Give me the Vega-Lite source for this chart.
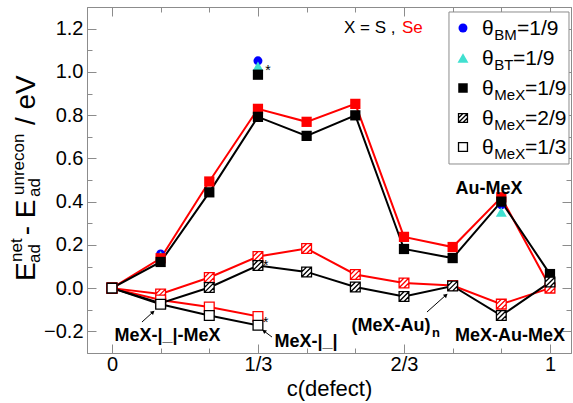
{
  "$schema": "https://vega.github.io/schema/vega-lite/v6.json",
  "width": 484,
  "height": 346,
  "autosize": {"type": "none"},
  "padding": {"left": 87, "top": 7, "right": 2, "bottom": 50},
  "background": "white",
  "config": {
    "view": {"stroke": "#8c8c8c", "strokeWidth": 1},
    "font": "Liberation Sans",
    "axis": {
      "domainColor": "#8c8c8c", "tickColor": "#8c8c8c", "domainWidth": 1, "tickWidth": 1,
      "labelFont": "Liberation Sans", "labelFontSize": 20, "labelColor": "#000000",
      "titleFont": "Liberation Sans", "titleFontWeight": "normal", "titleColor": "#000000",
      "grid": false, "labelFlush": false, "labelOverlap": false
    }
  },
  "datasets": {
    "pts": [
      {"c": 0, "v": 0, "set": "Se", "kind": "filled"},
      {"c": 0.1111, "v": 0.138, "set": "Se", "kind": "filled"},
      {"c": 0.2222, "v": 0.493, "set": "Se", "kind": "filled"},
      {"c": 0.3333, "v": 0.829, "set": "Se", "kind": "filled"},
      {"c": 0.4444, "v": 0.769, "set": "Se", "kind": "filled"},
      {"c": 0.5556, "v": 0.852, "set": "Se", "kind": "filled"},
      {"c": 0.6667, "v": 0.237, "set": "Se", "kind": "filled"},
      {"c": 0.7778, "v": 0.19, "set": "Se", "kind": "filled"},
      {"c": 0.8889, "v": 0.42, "set": "Se", "kind": "filled"},
      {"c": 1, "v": 0.005, "set": "Se", "kind": "filled"},
      {"c": 0, "v": 0, "set": "Se", "kind": "hatched"},
      {"c": 0.1111, "v": -0.027, "set": "Se", "kind": "hatched"},
      {"c": 0.2222, "v": 0.049, "set": "Se", "kind": "hatched"},
      {"c": 0.3333, "v": 0.146, "set": "Se", "kind": "hatched"},
      {"c": 0.4444, "v": 0.183, "set": "Se", "kind": "hatched"},
      {"c": 0.5556, "v": 0.063, "set": "Se", "kind": "hatched"},
      {"c": 0.6667, "v": 0.024, "set": "Se", "kind": "hatched"},
      {"c": 0.7778, "v": 0.012, "set": "Se", "kind": "hatched"},
      {"c": 0.8889, "v": -0.074, "set": "Se", "kind": "hatched"},
      {"c": 1, "v": 0.0, "set": "Se", "kind": "hatched"},
      {"c": 0, "v": 0, "set": "Se", "kind": "open"},
      {"c": 0.1111, "v": -0.055, "set": "Se", "kind": "open"},
      {"c": 0.2222, "v": -0.087, "set": "Se", "kind": "open"},
      {"c": 0.3333, "v": -0.131, "set": "Se", "kind": "open"},
      {"c": 0, "v": 0, "set": "S", "kind": "filled"},
      {"c": 0.1111, "v": 0.121, "set": "S", "kind": "filled"},
      {"c": 0.2222, "v": 0.443, "set": "S", "kind": "filled"},
      {"c": 0.3333, "v": 0.792, "set": "S", "kind": "filled"},
      {"c": 0.4444, "v": 0.704, "set": "S", "kind": "filled"},
      {"c": 0.5556, "v": 0.799, "set": "S", "kind": "filled"},
      {"c": 0.6667, "v": 0.181, "set": "S", "kind": "filled"},
      {"c": 0.7778, "v": 0.139, "set": "S", "kind": "filled"},
      {"c": 0.8889, "v": 0.4, "set": "S", "kind": "filled"},
      {"c": 1, "v": 0.065, "set": "S", "kind": "filled"},
      {"c": 0, "v": 0, "set": "S", "kind": "hatched"},
      {"c": 0.1111, "v": -0.07, "set": "S", "kind": "hatched"},
      {"c": 0.2222, "v": 0.003, "set": "S", "kind": "hatched"},
      {"c": 0.3333, "v": 0.105, "set": "S", "kind": "hatched"},
      {"c": 0.4444, "v": 0.075, "set": "S", "kind": "hatched"},
      {"c": 0.5556, "v": 0.005, "set": "S", "kind": "hatched"},
      {"c": 0.6667, "v": -0.039, "set": "S", "kind": "hatched"},
      {"c": 0.7778, "v": 0.01, "set": "S", "kind": "hatched"},
      {"c": 0.8889, "v": -0.127, "set": "S", "kind": "hatched"},
      {"c": 1, "v": 0.028, "set": "S", "kind": "hatched"},
      {"c": 0, "v": 0, "set": "S", "kind": "open"},
      {"c": 0.1111, "v": -0.075, "set": "S", "kind": "open"},
      {"c": 0.2222, "v": -0.127, "set": "S", "kind": "open"},
      {"c": 0.3333, "v": -0.172, "set": "S", "kind": "open"},
      {"c": 0.3333, "v": 0.987, "set": "S", "kind": "star"},
      {"c": 0, "v": 0, "set": "BM", "kind": "circle"},
      {"c": 0.1111, "v": 0.158, "set": "BM", "kind": "circle"},
      {"c": 0.3333, "v": 1.051, "set": "BM", "kind": "circle"},
      {"c": 0.8889, "v": 0.385, "set": "BM", "kind": "circle"},
      {"c": 0, "v": 0, "set": "BT", "kind": "triangle"},
      {"c": 0.1111, "v": 0.15, "set": "BT", "kind": "triangle"},
      {"c": 0.3333, "v": 1.026, "set": "BT", "kind": "triangle"},
      {"c": 0.8889, "v": 0.352, "set": "BT", "kind": "triangle"}
    ],
    "legbox": [{"c": 0.7694, "c2": 1.0434, "v": 1.2769, "v2": 0.574}],
    "leg": [
      {"c": 0.8014, "v": 1.2029, "kind": "circle"},
      {"c": 0.8014, "v": 1.0642, "kind": "triangle"},
      {"c": 0.8014, "v": 0.9254, "kind": "filled"},
      {"c": 0.8014, "v": 0.7867, "kind": "hatched"},
      {"c": 0.8014, "v": 0.6526, "kind": "open"}
    ],
    "legMain": [
      {"c": 0.8448, "v": 1.1705, "t": "θ"},
      {"c": 0.8448, "v": 1.0318, "t": "θ"},
      {"c": 0.8448, "v": 0.893, "t": "θ"},
      {"c": 0.8448, "v": 0.7543, "t": "θ"},
      {"c": 0.8448, "v": 0.6202, "t": "θ"},
      {"c": 0.9248, "v": 1.1705, "t": "=1/9"},
      {"c": 0.9157, "v": 1.0318, "t": "=1/9"},
      {"c": 0.9431, "v": 0.893, "t": "=1/9"},
      {"c": 0.9431, "v": 0.7543, "t": "=2/9"},
      {"c": 0.9431, "v": 0.6202, "t": "=1/3"}
    ],
    "legSub": [
      {"c": 0.8729, "v": 1.1473, "t": "BM"},
      {"c": 0.8729, "v": 1.0086, "t": "BT"},
      {"c": 0.8729, "v": 0.8698, "t": "MeX"},
      {"c": 0.8729, "v": 0.7311, "t": "MeX"},
      {"c": 0.8729, "v": 0.597, "t": "MeX"}
    ],
    "xs": [
      {"c": 0.5297, "v": 1.1797, "t": "X = S ,", "set": "S"},
      {"c": 0.6621, "v": 1.1797, "t": "Se", "set": "Se"}
    ],
    "ann": [
      {"c": 0.1267, "v": -0.245, "t": "MeX-|_|-MeX"},
      {"c": 0.4429, "v": -0.271, "t": "MeX-|_|"},
      {"c": 0.637, "v": -0.197, "t": "(MeX-Au)"},
      {"c": 0.9087, "v": -0.2432, "t": "MeX-Au-MeX"},
      {"c": 0.8607, "v": 0.4338, "t": "Au-MeX"}
    ],
    "annSub": [{"c": 0.7306, "v": -0.2247, "t": "n"}],
    "arrows": [
      {"c": 0.0685, "v": -0.1568, "c2": 0.0936, "v2": -0.1105, "ang": 48},
      {"c": 0.3653, "v": -0.2261, "c2": 0.347, "v2": -0.1984, "ang": 307},
      {"c": 0.7192, "v": -0.1105, "c2": 0.7626, "v2": -0.0319, "ang": 48}
    ],
    "stars": [
      {"c": 0.35, "v": 0.9855, "t": "*"},
      {"c": 0.345, "v": 0.0823, "t": "*"},
      {"c": 0.345, "v": -0.1813, "t": "*"}
    ],
    "ytMain": [
      {"c": -0.1758, "v": 0.0328, "t": "E"},
      {"c": -0.1758, "v": 0.2446, "t": "- E"},
      {"c": -0.1758, "v": 0.7542, "t": "/ eV"}
    ],
    "ytSmall": [
      {"c": -0.2055, "v": 0.1207, "t": "net"},
      {"c": -0.1644, "v": 0.1161, "t": "ad"},
      {"c": -0.2009, "v": 0.4305, "t": "unrecon"},
      {"c": -0.1644, "v": 0.4213, "t": "ad"}
    ]
  },
  "resolve": {"axis": {"x": "independent", "y": "independent"}},
  "layer": [
    {
      "mark": {"type": "rule", "color": "#000000", "strokeWidth": 1},
      "encoding": {"y": {"datum": 0, "type": "quantitative", "scale": {"domain": [-0.3, 1.3], "nice": false, "zero": false}, "axis": null}}
    },
    {
      "data": {"name": "pts"},
      "transform": [{"filter": "datum.kind=='filled'||datum.kind=='hatched'||datum.kind=='open'"}],
      "mark": {"type": "line", "strokeWidth": 2},
      "encoding": {
        "x": {"field": "c", "type": "quantitative", "scale": {"domain": [-0.057, 1.048], "nice": false, "zero": false},
          "axis": {"orient": "bottom", "values": [0, 0.1111, 0.2222, 0.3333, 0.4444, 0.5556, 0.6667, 0.7778, 0.8889, 1],
            "labelExpr": "datum.value==0?'0':abs(datum.value-0.3333)<0.001?'1/3':abs(datum.value-0.6667)<0.001?'2/3':datum.value==1?'1':''",
            "tickSize": {"condition": {"test": "abs(datum.value*3-round(datum.value*3))<0.01", "value": -9}, "value": -5},
            "labelPadding": 10, "title": "c(defect)", "titleFontSize": 22, "titlePadding": 0}},
        "y": {"field": "v", "type": "quantitative", "scale": {"domain": [-0.3, 1.3], "nice": false, "zero": false},
          "axis": {"orient": "left", "values": [-0.2, -0.1, 0, 0.1, 0.2, 0.3, 0.4, 0.5, 0.6, 0.7, 0.8, 0.9, 1.0, 1.1, 1.2],
            "labelExpr": "abs(round(datum.value*10))%2==0 ? format(datum.value,'.1f') : ''",
            "tickSize": {"condition": {"test": "abs(round(datum.value*10))%2==0", "value": -9}, "value": -5},
            "labelPadding": 13, "title": null}},
        "color": {"field": "set", "type": "nominal", "scale": {"domain": ["S", "Se", "BM", "BT"], "range": ["#000000", "#ff0000", "#0000ff", "#40e0d0"]}, "legend": null},
        "detail": {"field": "kind"},
        "order": {"field": "c", "type": "quantitative"}
      }
    },
    {
      "data": {"name": "pts"},
      "transform": [{"filter": "datum.kind=='circle'"}],
      "mark": {"type": "point", "shape": "circle", "filled": true, "size": 80, "opacity": 1, "color": "#0000ff"},
      "encoding": {
        "x": {"field": "c", "type": "quantitative", "scale": {"domain": [-0.057, 1.048], "nice": false, "zero": false},
          "axis": {"orient": "top", "values": [0, 0.1111, 0.2222, 0.3333, 0.4444, 0.5556, 0.6667, 0.7778, 0.8889, 1], "labels": false,
            "tickSize": {"condition": {"test": "abs(datum.value*3-round(datum.value*3))<0.01", "value": -9}, "value": -5}, "title": null}},
        "y": {"field": "v", "type": "quantitative", "scale": {"domain": [-0.3, 1.3], "nice": false, "zero": false},
          "axis": {"orient": "right", "values": [-0.2, -0.1, 0, 0.1, 0.2, 0.3, 0.4, 0.5, 0.6, 0.7, 0.8, 0.9, 1.0, 1.1, 1.2], "labels": false,
            "tickSize": {"condition": {"test": "abs(round(datum.value*10))%2==0", "value": -9}, "value": -5}, "title": null}}
      }
    },
    {
      "data": {"name": "pts"},
      "transform": [{"filter": "datum.kind=='triangle'"}],
      "mark": {"type": "point", "shape": "triangle-up", "filled": true, "size": 120, "opacity": 1, "color": "#40e0d0"},
      "encoding": {
        "x": {"field": "c", "type": "quantitative", "axis": null},
        "y": {"field": "v", "type": "quantitative", "axis": null}
      }
    },
    {
      "data": {"name": "pts"},
      "transform": [{"filter": "datum.kind=='filled'||datum.kind=='star'"}],
      "mark": {"type": "point", "shape": "square", "filled": true, "size": 105, "opacity": 1},
      "encoding": {
        "x": {"field": "c", "type": "quantitative", "axis": null},
        "y": {"field": "v", "type": "quantitative", "axis": null},
        "color": {"field": "set", "type": "nominal", "legend": null}
      }
    },
    {
      "data": {"name": "pts"},
      "transform": [{"filter": "datum.kind=='hatched'"}],
      "mark": {"type": "point", "shape": "M-1,-1H1V1H-1Z M-1,0L0,-1 M-1,1L1,-1 M0,1L1,0", "size": 95, "strokeWidth": 1.3, "opacity": 1},
      "encoding": {
        "x": {"field": "c", "type": "quantitative", "axis": null},
        "y": {"field": "v", "type": "quantitative", "axis": null},
        "fill": {"value": "#ffffff"},
        "stroke": {"field": "set", "type": "nominal", "scale": {"domain": ["S", "Se"], "range": ["#000000", "#ff0000"]}, "legend": null}
      }
    },
    {
      "data": {"name": "pts"},
      "transform": [{"filter": "datum.kind=='open'"}],
      "mark": {"type": "point", "shape": "square", "size": 95, "strokeWidth": 1.3, "opacity": 1},
      "encoding": {
        "x": {"field": "c", "type": "quantitative", "axis": null},
        "y": {"field": "v", "type": "quantitative", "axis": null},
        "fill": {"value": "#ffffff"},
        "stroke": {"field": "set", "type": "nominal", "scale": {"domain": ["S", "Se"], "range": ["#000000", "#ff0000"]}, "legend": null}
      }
    },
    {
      "data": {"name": "legbox"},
      "mark": {"type": "rect", "fill": "#ffffff", "stroke": "#8c8c8c", "strokeWidth": 1},
      "encoding": {
        "x": {"field": "c", "type": "quantitative", "axis": null},
        "x2": {"field": "c2"},
        "y": {"field": "v", "type": "quantitative", "axis": null},
        "y2": {"field": "v2"}
      }
    },
    {
      "data": {"name": "leg"},
      "transform": [{"filter": "datum.kind=='circle'"}],
      "mark": {"type": "point", "shape": "circle", "filled": true, "size": 80, "opacity": 1, "color": "#0000ff"},
      "encoding": {"x": {"field": "c", "type": "quantitative", "axis": null}, "y": {"field": "v", "type": "quantitative", "axis": null}}
    },
    {
      "data": {"name": "leg"},
      "transform": [{"filter": "datum.kind=='triangle'"}],
      "mark": {"type": "point", "shape": "triangle-up", "filled": true, "size": 120, "opacity": 1, "color": "#40e0d0"},
      "encoding": {"x": {"field": "c", "type": "quantitative", "axis": null}, "y": {"field": "v", "type": "quantitative", "axis": null}}
    },
    {
      "data": {"name": "leg"},
      "transform": [{"filter": "datum.kind=='filled'"}],
      "mark": {"type": "point", "shape": "square", "filled": true, "size": 90, "opacity": 1, "color": "#000000"},
      "encoding": {"x": {"field": "c", "type": "quantitative", "axis": null}, "y": {"field": "v", "type": "quantitative", "axis": null}}
    },
    {
      "data": {"name": "leg"},
      "transform": [{"filter": "datum.kind=='hatched'"}],
      "mark": {"type": "point", "shape": "M-1,-1H1V1H-1Z M-1,0L0,-1 M-1,1L1,-1 M0,1L1,0", "size": 80, "strokeWidth": 1.3, "opacity": 1, "fill": "#ffffff", "stroke": "#000000", "filled": true},
      "encoding": {"x": {"field": "c", "type": "quantitative", "axis": null}, "y": {"field": "v", "type": "quantitative", "axis": null}}
    },
    {
      "data": {"name": "leg"},
      "transform": [{"filter": "datum.kind=='open'"}],
      "mark": {"type": "point", "shape": "square", "size": 80, "strokeWidth": 1.3, "opacity": 1, "fill": "#ffffff", "stroke": "#000000", "filled": true},
      "encoding": {"x": {"field": "c", "type": "quantitative", "axis": null}, "y": {"field": "v", "type": "quantitative", "axis": null}}
    },
    {
      "data": {"name": "legMain"},
      "mark": {"type": "text", "align": "left", "baseline": "alphabetic", "fontSize": 21, "font": "Liberation Sans", "color": "#000000"},
      "encoding": {"x": {"field": "c", "type": "quantitative", "axis": null}, "y": {"field": "v", "type": "quantitative", "axis": null}, "text": {"field": "t"}}
    },
    {
      "data": {"name": "legSub"},
      "mark": {"type": "text", "align": "left", "baseline": "alphabetic", "fontSize": 15, "font": "Liberation Sans", "color": "#000000"},
      "encoding": {"x": {"field": "c", "type": "quantitative", "axis": null}, "y": {"field": "v", "type": "quantitative", "axis": null}, "text": {"field": "t"}}
    },
    {
      "data": {"name": "xs"},
      "mark": {"type": "text", "align": "left", "baseline": "alphabetic", "fontSize": 17, "font": "Liberation Sans"},
      "encoding": {"x": {"field": "c", "type": "quantitative", "axis": null}, "y": {"field": "v", "type": "quantitative", "axis": null}, "text": {"field": "t"},
        "color": {"field": "set", "type": "nominal", "legend": null}}
    },
    {
      "data": {"name": "ann"},
      "mark": {"type": "text", "align": "center", "baseline": "alphabetic", "fontSize": 18, "fontWeight": "bold", "font": "Liberation Sans", "color": "#000000"},
      "encoding": {"x": {"field": "c", "type": "quantitative", "axis": null}, "y": {"field": "v", "type": "quantitative", "axis": null}, "text": {"field": "t"}}
    },
    {
      "data": {"name": "annSub"},
      "mark": {"type": "text", "align": "left", "baseline": "alphabetic", "fontSize": 13, "fontWeight": "bold", "font": "Liberation Sans", "color": "#000000"},
      "encoding": {"x": {"field": "c", "type": "quantitative", "axis": null}, "y": {"field": "v", "type": "quantitative", "axis": null}, "text": {"field": "t"}}
    },
    {
      "data": {"name": "arrows"},
      "mark": {"type": "rule", "color": "#000000", "strokeWidth": 1},
      "encoding": {"x": {"field": "c", "type": "quantitative", "axis": null}, "y": {"field": "v", "type": "quantitative", "axis": null}, "x2": {"field": "c2"}, "y2": {"field": "v2"}}
    },
    {
      "data": {"name": "arrows"},
      "mark": {"type": "point", "shape": "triangle-up", "filled": true, "size": 22, "opacity": 1, "color": "#000000"},
      "encoding": {"x": {"field": "c2", "type": "quantitative", "axis": null}, "y": {"field": "v2", "type": "quantitative", "axis": null}, "angle": {"field": "ang", "type": "quantitative", "scale": null}}
    },
    {
      "data": {"name": "stars"},
      "mark": {"type": "text", "align": "left", "baseline": "alphabetic", "fontSize": 14, "font": "Liberation Sans", "color": "#000000"},
      "encoding": {"x": {"field": "c", "type": "quantitative", "axis": null}, "y": {"field": "v", "type": "quantitative", "axis": null}, "text": {"field": "t"}}
    },
    {
      "data": {"name": "ytMain"},
      "mark": {"type": "text", "align": "left", "baseline": "alphabetic", "angle": 270, "fontSize": 28, "font": "Liberation Sans", "color": "#000000"},
      "encoding": {"x": {"field": "c", "type": "quantitative", "axis": null}, "y": {"field": "v", "type": "quantitative", "axis": null}, "text": {"field": "t"}}
    },
    {
      "data": {"name": "ytSmall"},
      "mark": {"type": "text", "align": "left", "baseline": "alphabetic", "angle": 270, "fontSize": 17, "font": "Liberation Sans", "color": "#000000"},
      "encoding": {"x": {"field": "c", "type": "quantitative", "axis": null}, "y": {"field": "v", "type": "quantitative", "axis": null}, "text": {"field": "t"}}
    }
  ]
}
